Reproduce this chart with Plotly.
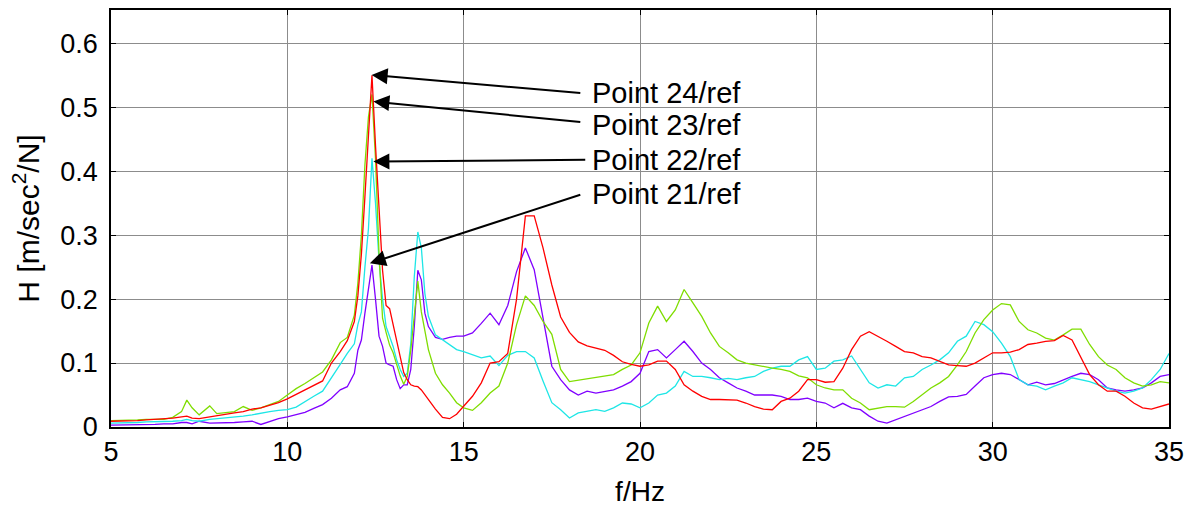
import plotly.graph_objects as go

# Frequency grid (Hz)
freq = [5, 5.25, 5.5, 5.75, 6, 6.25, 6.5, 6.75, 7, 7.15, 7.3, 7.5, 7.8, 8, 8.25, 8.5, 8.75,
        9, 9.25, 9.5, 9.75, 10, 10.25, 10.5, 10.75, 11,
        11.25, 11.5, 11.7, 11.9, 12.0, 12.1, 12.2, 12.3, 12.4, 12.5, 12.6, 12.7, 12.8, 12.9,
        13.0, 13.1, 13.2, 13.3, 13.4, 13.5, 13.6, 13.7, 13.8, 13.9, 14.0, 14.2, 14.4, 14.6, 14.8, 15.0,
        15.25, 15.5, 15.75, 16, 16.25, 16.5, 16.75, 17, 17.25, 17.5, 17.75, 18, 18.25, 18.5, 18.75,
        19, 19.25, 19.5, 19.75, 20,
        20.25, 20.5, 20.75, 21, 21.25, 21.5, 21.75, 22, 22.25, 22.5, 22.75, 23, 23.25, 23.5, 23.75,
        24, 24.25, 24.5, 24.75, 25, 25.25, 25.5, 25.75, 26, 26.25, 26.5, 26.75, 27, 27.25, 27.5, 27.75,
        28, 28.25, 28.5, 28.75, 29, 29.25, 29.5, 29.75, 30, 30.25, 30.5, 30.75, 31, 31.25, 31.5, 31.75,
        32, 32.25, 32.5, 32.75, 33, 33.25, 33.5, 33.75, 34, 34.25, 34.5, 34.75, 35]

point24 = [.009, .009, .010, .010, .011, .012, .012, .014, .016, .017, .014, .013, .016, .018, .020, .022, .024,
           .028, .030, .034, .038, .044, .051, .058, .066, .072,
           .100, .118, .135, .165, .205, .27, .36, .46, .55, .44, .34, .245, .19, .185,
           .16, .135, .108, .085, .074, .066, .064, .063, .058, .050, .042, .028, .015, .013, .020, .032,
           .048, .069, .100, .102, .115, .20, .33, .33, .28, .222, .172, .148, .133, .127, .124,
           .12, .112, .102, .098, .095,
           .097, .103, .103, .090, .066, .056, .048, .043, .043, .043, .042, .0375, .032, .028, .027,
           .040, .045, .056, .074, .074, .070, .071, .092, .121, .142, .149, .142, .134, .126, .118, .116,
           .110, .108, .103, .097, .096, .095, .1, .108, .116, .116, .117, .121, .129, .131, .134, .135,
           .143, .136, .110, .082, .066, .056, .056, .048, .0375, .030, .028, .032, .036]

point23 = [.010, .010, .011, .011, .012, .012, .012, .015, .024, .042, .030, .019, .033, .021, .022, .024, .032,
           .026, .030, .035, .040, .050, .060, .068, .077, .086,
           .105, .132, .14, .175, .225, .30, .41, .485, .52, .42, .27, .17, .148, .128,
           .116, .098, .08, .067, .079, .12, .175, .228, .18, .147, .121, .084, .066, .053, .038, .030,
           .026, .038, .053, .064, .10, .16, .205, .19, .165, .145, .09, .071, .073, .075, .077,
           .079, .082, .090, .097, .116,
           .1625, .189, .165, .183, .215, .194, .173, .147, .126, .116, .105, .1, .097, .095, .092,
           .090, .087, .080, .077, .066, .061, .058, .058, .045, .0375, .027, .030, .032, .032, .031, .040,
           .051, .061, .069, .079, .097, .118, .147, .168, .183, .193, .191, .165, .152, .147, .139, .136,
           .144, .153, .153, .129, .110, .097, .090, .077, .069, .064, .066, .071, .069]

point22 = [.006, .006, .007, .007, .008, .008, .009, .009, .010, .012, .010, .009, .012, .013, .014, .016, .017,
           .019, .022, .024, .026, .027, .031, .040, .048, .056,
           .076, .098, .115, .13, .16, .18, .25, .31, .42, .35, .26, .20, .157, .142,
           .126, .105, .090, .079, .084, .13, .235, .305, .28, .209, .173, .144, .136, .129, .121, .118,
           .113, .108, .111, .096, .112, .118, .118, .108, .072, .038, .027, .014, .022, .0245, .027,
           .0245, .030, .0375, .036, .030,
           .0375, .050, .053, .064, .087, .079, .079, .077, .074, .076, .074, .077, .079, .087, .092,
           .095, .095, .105, .110, .090, .092, .103, .105, .111, .090, .069, .061, .066, .064, .077, .079,
           .090, .097, .105, .116, .134, .142, .165, .160, .149, .131, .110, .074, .066, .064, .058, .064,
           .069, .077, .074, .071, .066, .061, .056, .053, .056, .061, .074, .090, .115]

point21 = [.003, .003, .004, .004, .004, .004, .005, .005, .007, .007, .005, .009, .006, .006, .007, .007, .008,
           .009, .004, .009, .013, .016, .020, .023, .029, .035,
           .045, .058, .063, .084, .12, .136, .178, .22, .253, .20, .142, .126, .10, .097,
           .095, .074, .060, .066, .066, .090, .157, .245, .23, .178, .157, .140, .137, .140, .142, .142,
           .147, .162, .178, .160, .19, .243, .28, .246, .173, .095, .074, .058, .050, .056, .053,
           .056, .058, .064, .071, .084,
           .118, .121, .108, .121, .134, .118, .1, .090, .077, .069, .061, .056, .050, .050, .050,
           .048, .043, .043, .045, .040, .0375, .030, .037, .030, .027, .017, .009, .006, .011, .017, .022,
           .027, .032, .040, .047, .048, .051, .064, .077, .082, .084, .082, .074, .066, .070, .066, .068,
           .074, .079, .084, .082, .074, .061, .058, .056, .058, .061, .069, .079, .082]

series_names = ["Point 21/ref", "Point 22/ref", "Point 23/ref", "Point 24/ref"]
series_values = [point21, point22, point23, point24]
series_colors = ["#8000ff", "#1ee6e6", "#7fdd00", "#ff0000"]

# annotation labels: arrow tails, text positions and arrow tips (data units)
label_texts = ["Point 24/ref", "Point 23/ref", "Point 22/ref", "Point 21/ref"]
tail_f = [18.35, 18.35, 18.49, 18.35]
tail_v = [0.522, 0.4766, 0.4177, 0.364]
text_f = 18.57
text_v = [0.5223, 0.4716, 0.4181, 0.365]
tip_f = [12.39, 12.44, 12.44, 12.34]
tip_v = [0.5505, 0.5088, 0.415, 0.256]

x_ticks = [5, 10, 15, 20, 25, 30, 35]
y_ticks = [0, 0.1, 0.2, 0.3, 0.4, 0.5, 0.6]
y_ticklabels = ["0", "0.1", "0.2", "0.3", "0.4", "0.5", "0.6"]

FONT = "Arial, Liberation Sans, sans-serif"

fig = go.Figure()
for name, vals, col in zip(series_names, series_values, series_colors):
    fig.add_trace(go.Scatter(x=freq, y=vals, mode="lines", name=name,
                             line=dict(color=col, width=1.3), showlegend=False))

for t, af, av, tv, xf, xv in zip(label_texts, tail_f, tail_v, text_v, tip_f, tip_v):
    fig.add_annotation(x=xf, y=xv, ax=af, ay=av, axref="x", ayref="y", xref="x", yref="y",
                       text="", showarrow=True, arrowhead=2, arrowsize=1.6, arrowwidth=2,
                       arrowcolor="black", standoff=0, startstandoff=0)
    fig.add_annotation(x=text_f, y=tv, xref="x", yref="y", text=t, showarrow=False,
                       xanchor="left", yanchor="middle",
                       font=dict(family=FONT, size=29, color="black"))

axis_common = dict(showline=True, linecolor="black", linewidth=1.5, mirror="ticks",
                   ticks="inside", ticklen=5, tickcolor="black",
                   showgrid=True, gridcolor="#8c8c8c", gridwidth=1,
                   zeroline=False, automargin=False,
                   tickfont=dict(family=FONT, size=27, color="black"))

fig.update_xaxes(range=[5, 35], tickvals=x_ticks,
                 title=dict(text="f/Hz", font=dict(family=FONT, size=28, color="black"), standoff=15),
                 **axis_common)
fig.update_yaxes(range=[0, 0.652], tickvals=y_ticks, ticktext=y_ticklabels, ticklabelstandoff=6,
                 title=dict(text="H [m/sec<sup>2</sup>/N]", font=dict(family=FONT, size=30, color="black"),
                            standoff=12),
                 **axis_common)

fig.update_layout(width=1197, height=509, margin=dict(l=111, r=28, t=10, b=82),
                  plot_bgcolor="white", paper_bgcolor="white",
                  font=dict(family=FONT, color="black"))

fig.write_html("out.html", config={"displayModeBar": False},
               post_script="document.body.style.margin='0px';document.body.style.overflow='hidden';")
